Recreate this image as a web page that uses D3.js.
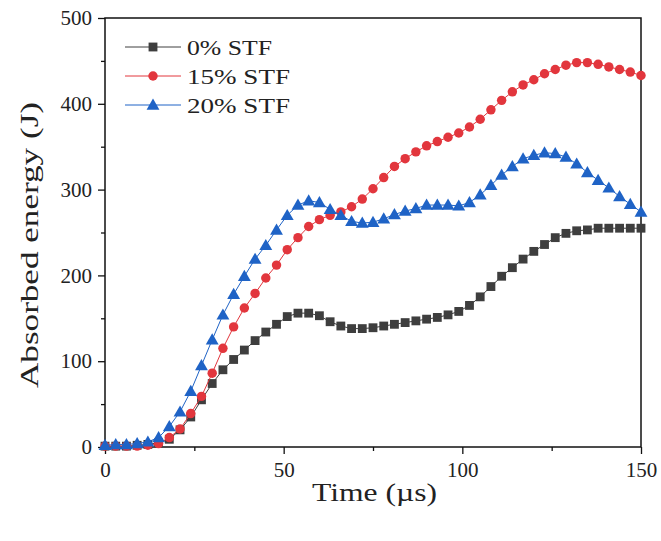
<!DOCTYPE html>
<html>
<head>
<meta charset="utf-8">
<script src="https://cdn.jsdelivr.net/npm/d3@7"></script>
<style>
	body { margin: 0; background: #fff; }
	text { font-family: "Liberation Serif", "Times New Roman", serif; fill: #222; }
</style>
</head>
<body>
<div id="chart"></div>
<script>
const times = d3.range(0, 151, 3);

const stf0 = [1, 1, 1, 2, 3, 5, 9, 20, 35, 55, 74, 90, 102, 113, 124, 134, 143, 152, 156, 156,
	153, 146, 141, 138, 138, 139, 141, 143, 145, 147, 149, 151, 154, 158, 165, 175, 187, 199,
	209, 219, 228, 236, 244, 249, 252, 253, 255, 255, 255, 255, 255];

const stf15 = [1, 1, 1, 1, 2, 4, 11, 21, 39, 59, 86, 115, 140, 162, 179, 197, 212, 230, 244, 257,
	265, 270, 274, 280, 289, 301, 314, 327, 336, 344, 351, 356, 361, 366, 373, 382, 393, 404,
	414, 422, 428, 435, 440, 445, 448, 448, 446, 443, 440, 437, 433];

const stf20 = [2, 3, 3, 4, 6, 11, 24, 41, 65, 95, 125, 154, 178, 199, 219, 235, 253, 270, 282, 287,
	285, 277, 270, 263, 261, 262, 266, 271, 275, 278, 282, 282, 282, 281, 285, 294, 305, 317,
	327, 336, 340, 343, 342, 338, 330, 320, 311, 302, 292, 283, 274];

const seriesNames = ["0% STF", "15% STF", "20% STF"];
const seriesColors = ["#3e3e3e", "#e2363d", "#1f63c6"];
const seriesShapes = [d3.symbolSquare, d3.symbolCircle, d3.symbolTriangle];
const seriesSizes = [78, 70, 72];

const xTicks = [0, 50, 100, 150];
const yTicks = [0, 100, 200, 300, 400, 500];

const width = 661;
const height = 541;
const margin = { top: 18, right: 20, bottom: 94, left: 105 };

const svg = d3
	.select("#chart")
	.append("svg")
	.attr("width", width)
	.attr("height", height);

const x = d3
	.scaleLinear()
	.domain([0, 150])
	.range([margin.left, width - margin.right]);

const y = d3
	.scaleLinear()
	.domain([0, 500])
	.range([height - margin.bottom, margin.top]);

// minor ticks
svg
	.append("g")
	.attr("transform", `translate(0,${y(0)})`)
	.call(d3.axisBottom(x).tickValues([25, 75, 125]).tickSize(4).tickFormat(""))
	.call(g => g.select(".domain").remove());

svg
	.append("g")
	.attr("transform", `translate(${x(0)},0)`)
	.call(d3.axisLeft(y).tickValues([50, 150, 250, 350, 450]).tickSize(4).tickFormat(""))
	.call(g => g.select(".domain").remove());

// major ticks
const xAxis = svg
	.append("g")
	.attr("transform", `translate(0,${y(0)})`)
	.call(d3.axisBottom(x).tickValues(xTicks).tickSize(7).tickPadding(8));

const yAxis = svg
	.append("g")
	.attr("transform", `translate(${x(0)},0)`)
	.call(d3.axisLeft(y).tickValues(yTicks).tickSize(7).tickPadding(6));

[xAxis, yAxis].forEach(a => {
	a.select(".domain").remove();
	a.selectAll("text").style("font-size", "21px").attr("fill", "#222");
});

svg.selectAll(".tick line").attr("stroke", "#111").attr("stroke-width", 1.3);

// frame
svg
	.append("rect")
	.attr("x", x(0))
	.attr("y", y(500))
	.attr("width", x(150) - x(0))
	.attr("height", y(0) - y(500))
	.attr("fill", "none")
	.attr("stroke", "#111")
	.attr("stroke-width", 1.5);

// axis titles
svg
	.append("text")
	.attr("x", 312)
	.attr("y", 501)
	.attr("textLength", 125)
	.attr("lengthAdjust", "spacingAndGlyphs")
	.style("font-size", "26px")
	.text("Time (µs)");

svg
	.append("text")
	.attr("transform", "translate(38,388) rotate(-90)")
	.attr("textLength", 286)
	.attr("lengthAdjust", "spacingAndGlyphs")
	.style("font-size", "26px")
	.text("Absorbed energy (J)");

// series
const allSeries = [stf0, stf15, stf20];

const line = d3
	.line()
	.x((d, i) => x(times[i]))
	.y(d => y(d));

allSeries.forEach((values, k) => {
	const g = svg.append("g").attr("class", `series-${k}`);

	g.append("path")
		.attr("d", line(values))
		.attr("fill", "none")
		.attr("stroke", seriesColors[k])
		.attr("stroke-width", 1);

	const sym = d3.symbol().type(seriesShapes[k]).size(seriesSizes[k]);

	g.selectAll("path.marker")
		.data(values)
		.enter()
		.append("path")
		.attr("class", "marker")
		.attr("d", sym)
		.attr("transform", (d, i) => `translate(${x(times[i])},${y(d) + (k === 2 ? 1 : 0)})`)
		.attr("fill", seriesColors[k]);
});

// legend
const legend = svg.append("g").attr("transform", "translate(125,47)");

seriesNames.forEach((name, k) => {
	const row = legend.append("g").attr("transform", `translate(0,${k * 29})`);

	row.append("line")
		.attr("x1", 0)
		.attr("x2", 56)
		.attr("stroke", seriesColors[k])
		.attr("stroke-width", 1);

	row.append("path")
		.attr("d", d3.symbol().type(seriesShapes[k]).size(seriesSizes[k])())
		.attr("transform", `translate(28,${k === 2 ? 1 : 0})`)
		.attr("fill", seriesColors[k]);

	row.append("text")
		.attr("x", 62)
		.attr("y", 8)
		.attr("textLength", k === 0 ? 85 : 103)
		.attr("lengthAdjust", "spacingAndGlyphs")
		.style("font-size", "21px")
		.text(name);
});
</script>
</body>
</html>
